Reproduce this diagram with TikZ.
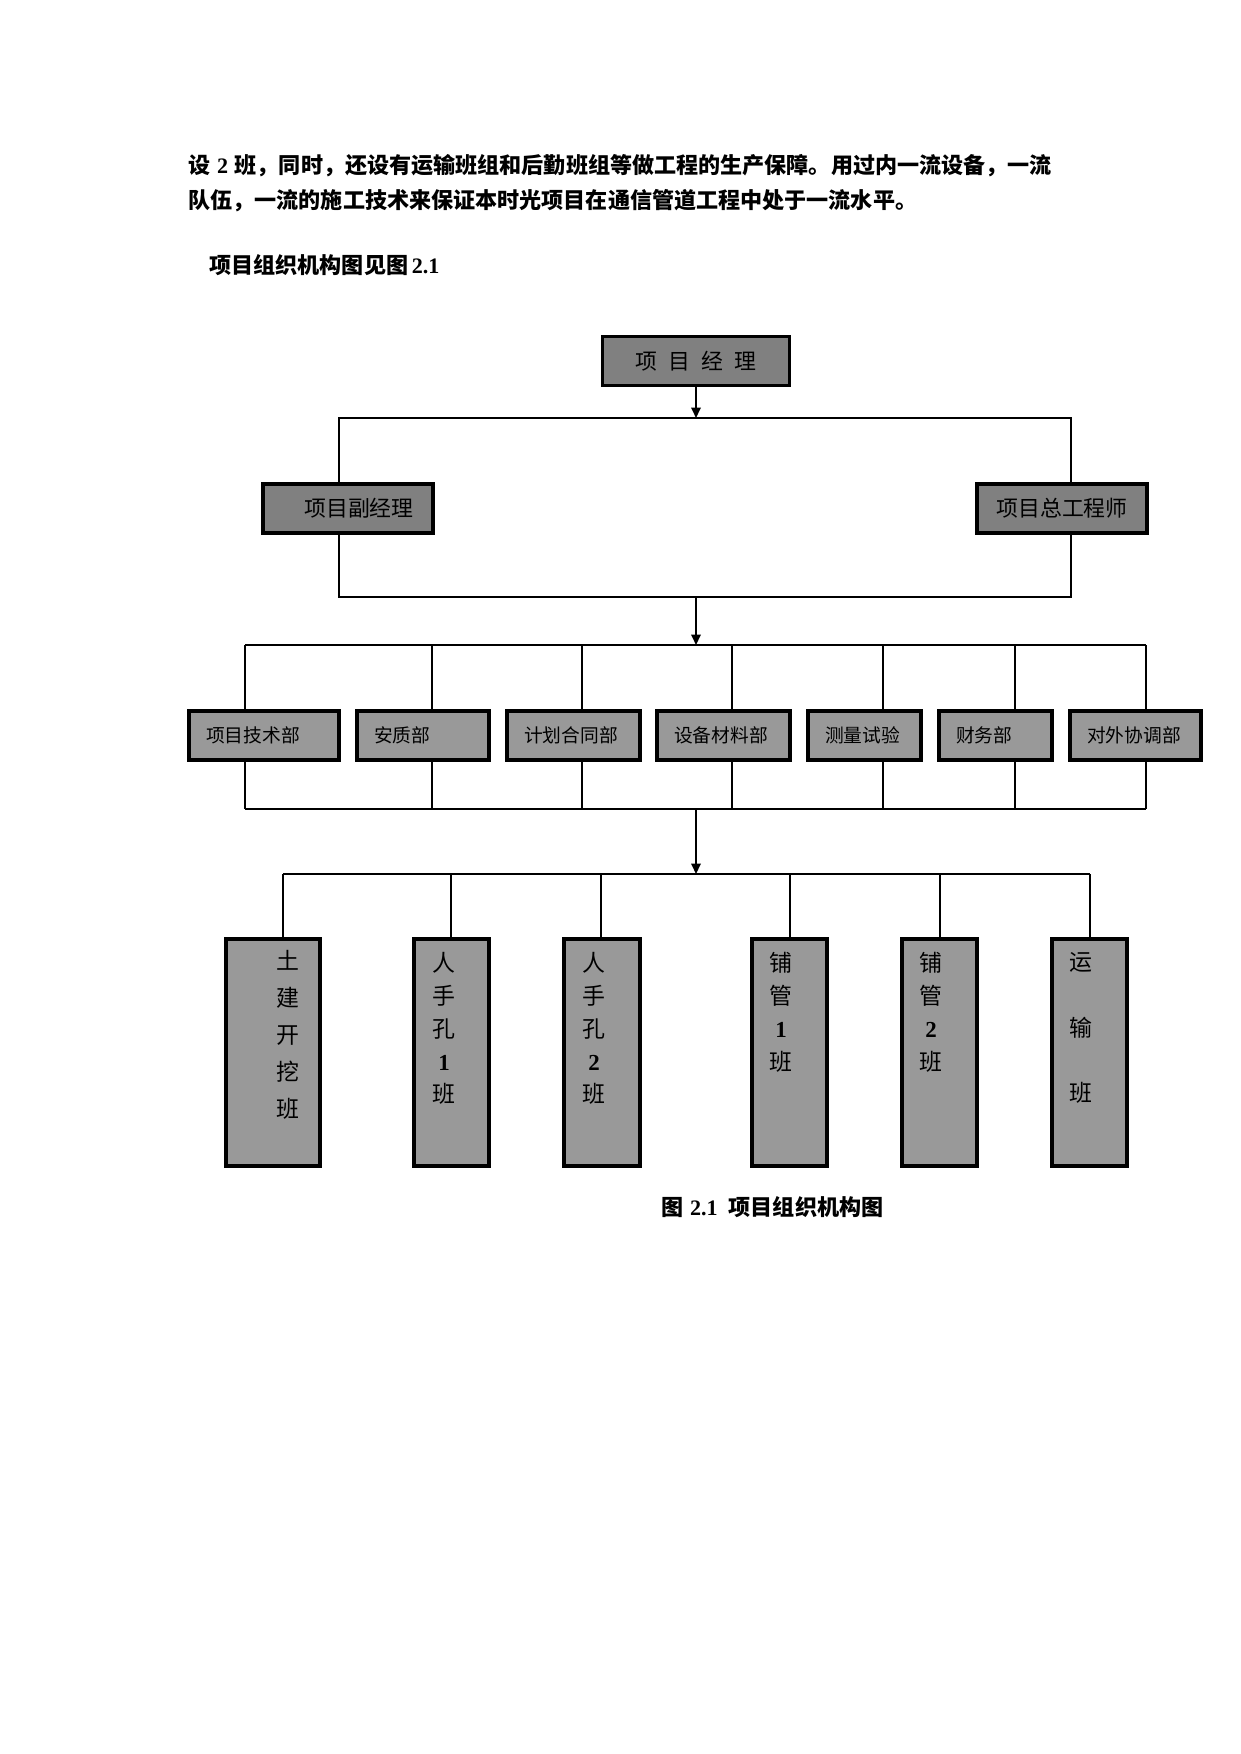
\documentclass[tikz,border=0pt]{standalone}
\usepackage{fontspec}
\setmainfont{Noto Sans CJK SC}
\newfontfamily\lat{Liberation Serif}
\usetikzlibrary{arrows.meta}
\definecolor{gA}{HTML}{808080}
\definecolor{gB}{HTML}{999999}
\begin{document}
\begin{tikzpicture}[x=0.48pt,y=-0.48pt,
  bx/.style 2 args={minimum width=#1*0.48pt, minimum height=#2*0.48pt},
  lv1/.style={draw=black, line width=1.6pt, fill=gA, inner sep=0pt, font=\fontsize{10.5}{12}\selectfont},
  mid/.style={draw=black, line width=1.5pt, fill=gB, inner ysep=0pt, inner xsep=17*0.48pt,
     minimum height=49*0.48pt, text width=#1*0.48pt-34*0.48pt, align=left, font=\fontsize{9}{11}\selectfont},
  low/.style={draw=black, line width=1.5pt, fill=gB, inner sep=0pt},
  vt/.style={inner sep=0pt, align=center, anchor=north, font=\fontsize{11}{15.75}\selectfont},
  ln/.style={draw=black, line width=1pt},
  thin/.style={draw=black, line width=0.7pt},
  arr/.style={draw=black, line width=1pt, -{Triangle[length=5pt,width=4.5pt]}},
  body/.style={anchor=west, inner sep=0pt, font=\fontsize{10.6}{12}\selectfont\bfseries}]
\useasboundingbox (0,0) rectangle (1241,1754);
% body text
\node[body] (p1) at (188,166) {设\hspace{0.3em}{\lat\bfseries 2}\hspace{0.3em}班，同时，还设有运输班组和后勤班组等做工程的生产保障。用过内一流设备，一流};
\node[body] (p2) at (188,201) {队伍，一流的施工技术来保证本时光项目在通信管道工程中处于一流水平。};
\node[body] (p3) at (209,265) {项目组织机构图见图\,{\lat\bfseries 2.1}};
% level 1
\node[lv1, bx={187}{49}] (pm) at (696,361) {项\hspace{0.5em}目\hspace{0.5em}经\hspace{0.5em}理};
\node[lv1, bx={170}{49}] (dpm) at (348,508.5) {\hspace{1em}项目副经理};
\node[lv1, bx={170}{49}] (ce) at (1062,508.5) {项目总工程师};
\coordinate (t1) at (696,418);
\coordinate (r1l) at (339,418);
\coordinate (r1r) at (1071,418);
\coordinate (r1bl) at (339,597);
\coordinate (r1br) at (1071,597);
\coordinate (t2) at (696,597);
\coordinate (t3) at (696,645);
\draw[arr] (pm) -- (t1);
\draw[ln] (dpm.north -| r1l) -- (r1l) -- (r1r) -- (ce.north -| r1r);
\draw[ln] (dpm.south -| r1bl) -- (r1bl) -- (r1br) -- (ce.south -| r1br);
\draw[arr] (t2) -- (t3);
% level 2
\node[mid=150] (b1) at (264,735.5) {项目技术部};
\node[mid=132] (b2) at (423,735.5) {安质部};
\node[mid=133] (b3) at (573.5,735.5) {计划合同部};
\node[mid=133] (b4) at (723.5,735.5) {设备材料部};
\node[mid=113] (b5) at (864.5,735.5) {测量试验};
\node[mid=113] (b6) at (995.5,735.5) {财务部};
\node[mid=131] (b7) at (1135.5,735.5) {对外协调部};
\foreach \i/\x in {1/245,2/432,3/582,4/732,5/883,6/1015,7/1146}{
  \coordinate (c\i) at (\x,645);
  \coordinate (d\i) at (\x,809);
  \draw[ln] (c\i) -- (b\i.north -| c\i);
  \draw[ln] (b\i.south -| d\i) -- (d\i);
}
\draw[ln] (c1) -- (c7);
\draw[ln] (d1) -- (d7);
\coordinate (t4) at (696,809);
\coordinate (t5) at (696,874);
\draw[arr] (t4) -- (t5);
% level 3
\node[low, bx={94}{227}] (k1) at (273,1052.5) {};
\node[low, bx={75}{227}] (k2) at (451.5,1052.5) {};
\node[low, bx={76}{227}] (k3) at (602,1052.5) {};
\node[low, bx={75}{227}] (k4) at (789.5,1052.5) {};
\node[low, bx={75}{227}] (k5) at (939.5,1052.5) {};
\node[low, bx={75}{227}] (k6) at (1089.5,1052.5) {};
\foreach \i/\x in {1/283,2/451,3/601,4/790,5/940,6/1090}{
  \coordinate (e\i) at (\x,874);
  \draw[thin] (e\i) -- (k\i.north -| e\i);
}
\draw[thin] (e1) -- (e6);
\node[vt, font=\fontsize{11}{17.8}\selectfont] (k1t) at (288,950) {土\\建\\开\\挖\\班};
\node[vt] (k2t) at (444,952) {人\\手\\孔\\{\lat\bfseries 1}\\班};
\node[vt] (k3t) at (594,952) {人\\手\\孔\\{\lat\bfseries 2}\\班};
\node[vt] (k4t) at (781,952) {铺\\管\\{\lat\bfseries 1}\\班};
\node[vt] (k5t) at (931,952) {铺\\管\\{\lat\bfseries 2}\\班};
\node[vt] (k6t) at (1081,952) {运\\[15.75pt]输\\[15.75pt]班};
% caption
\node[anchor=west, inner sep=0pt, font=\fontsize{10.6}{12}\selectfont\bfseries] (cap) at (661,1207) {图\hspace{0.3em}{\lat\bfseries 2.1}\hspace{0.5em}项目组织机构图};
\end{tikzpicture}
\end{document}
